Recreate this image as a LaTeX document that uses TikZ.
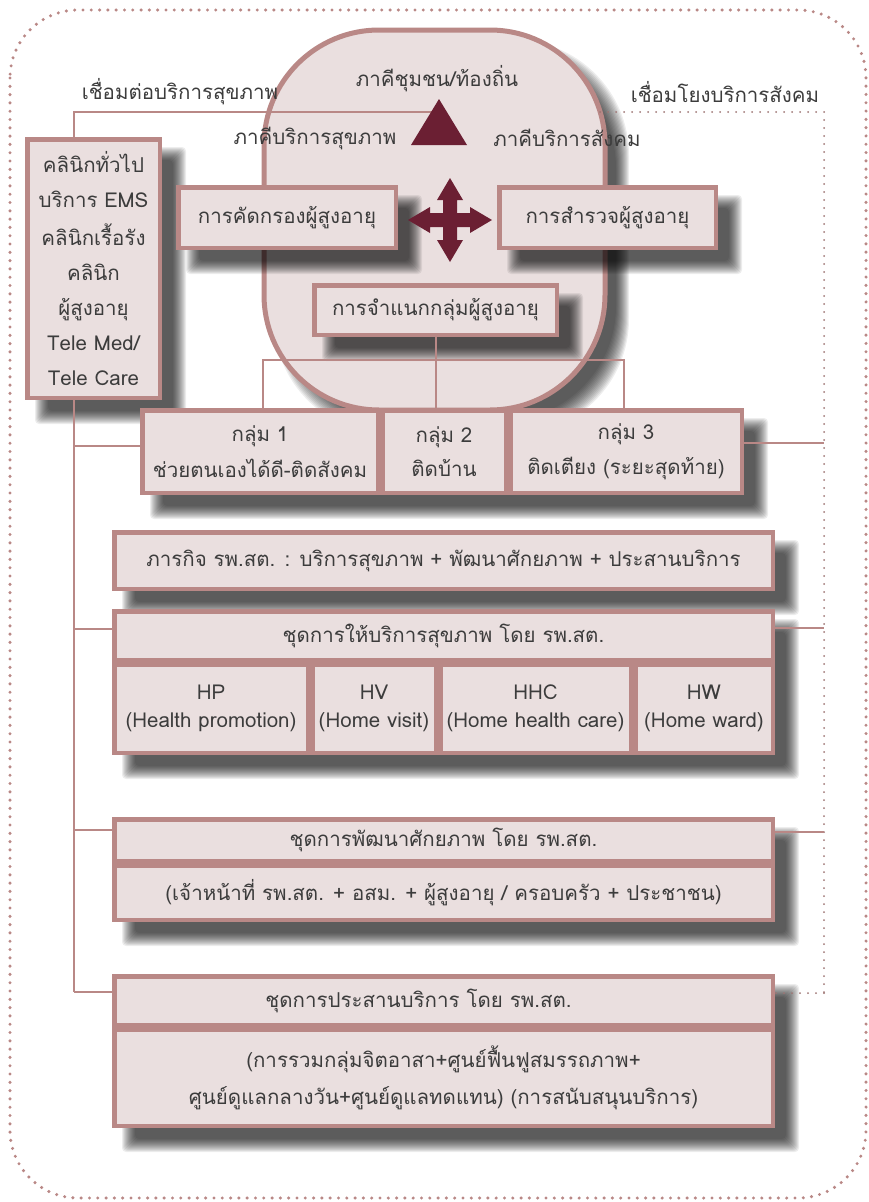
\documentclass[tikz,border=0pt]{standalone}
\usepackage{fontspec}
\setmainfont[Script=Thai]{Loma}
\definecolor{bcol}{HTML}{B98886}
\definecolor{fcol}{HTML}{EADFDF}
\definecolor{tcol}{HTML}{3C3C3C}
\definecolor{mar}{HTML}{6B1F33}
\definecolor{dotc}{HTML}{B98886}
\newcommand{\fsz}[1]{\fontsize{#1}{#1}\selectfont}
% soft shadow: [corner radius]{x1}{y1}{x2}{y2}
\newcommand{\shd}[5][4]{%
  \foreach \k in {0,...,13}{%
    \fill[black, opacity=0.072, rounded corners=#1pt]
      ({#2+17-7+\k},{#3+17-7+\k}) rectangle ({#4+17+7-\k},{#5+17+7-\k});
  }}
\tikzset{
  box/.style={draw=bcol, fill=fcol, line width=4.5pt, text=tcol, align=center, inner sep=0pt, font=\fsz{20.5}},
  conn/.style={draw=bcol, line width=2pt},
  dotline/.style={draw=dotc!85!black, line width=2pt, line cap=round, dash pattern=on 0pt off 8pt},
  lbl/.style={text=tcol, font=\fsz{20.5}, inner sep=0pt},
}
\begin{document}
\begin{tikzpicture}[x=1pt,y=-1pt]
\useasboundingbox (0,0) rectangle (868,1202);
% outer dotted frame
\draw[dotc, line width=3.4pt, line cap=round, dash pattern=on 0pt off 8.3pt, rounded corners=68pt] (10,10) rectangle (866,1198);
% big rounded shape
\shd[115]{264}{30}{605}{410}
\path[draw=bcol, fill=fcol, line width=5pt, rounded corners=115pt] (264,30) rectangle (605,410);
% shadows of boxes
\shd{25}{137}{162}{400}
\shd{176}{185}{398}{250}
\shd{497}{185}{718}{250}
\shd{312}{283}{559}{337}
\shd{140}{408}{744}{495}
\shd{112}{530}{775}{591}
\shd{112}{609}{775}{755}
\shd{112}{817}{775}{922}
\shd{112}{974}{775}{1128}
% connector coordinates
\coordinate (tl) at (74,112);
\coordinate (tmid) at (432,112);
\coordinate (tr) at (600,112);
\coordinate (rtop) at (824,112);
\coordinate (rbot) at (824,993);
\coordinate (lbot) at (74,992);
\coordinate (lv1) at (74,446);
\coordinate (lv2) at (74,629);
\coordinate (lv3) at (74,830);
\coordinate (rv1) at (824,443);
\coordinate (rv2) at (824,628);
\coordinate (rv3) at (824,832);
\coordinate (hl) at (263,360);
\coordinate (hr) at (624,360);
% labels
\node[lbl] (lk1) at (180,92) {เชื่อมต่อบริการสุขภาพ};
\node[lbl] (lk2) at (725,92) {เชื่อมโยงบริการสังคม};
\node[lbl] (p1) at (437,79) {ภาคีชุมชน/ท้องถิ่น};
\node[lbl] (p2) at (315,138) {ภาคีบริการสุขภาพ};
\node[lbl] (p3) at (567,138) {ภาคีบริการสังคม};
% left box
\node[box, minimum width=132.5pt, minimum height=258.5pt] (lb) at (93.5,268.5)
  {คลินิกทั่วไป\\[14.5pt]บริการ EMS\\[14.5pt]คลินิกเรื้อรัง\\[14.5pt]คลินิก\\[14.5pt]ผู้สูงอายุ\\[14.5pt]Tele Med/\\[14.5pt]Tele Care};
% top solid line and dotted continuation
\draw[conn] (lb.north -| tl) -- (tl) -- (tmid);
\draw[dotline] (tr) -- (rtop) -- (rbot);
\draw[conn] (lb.south -| tl) -- (lbot);
% triangle
\fill[mar] (411,145) -- (439,99) -- (467,145) -- cycle;
% four-way arrow
\fill[mar] (450,220) ++(7,-7) -- ++(13,0) -- ++(0,-6) -- ++(22,13) -- ++(-22,13) -- ++(0,-6) -- ++(-13,0)
  -- ++(0,13) -- ++(6,0) -- ++(-13,22) -- ++(-13,-22) -- ++(6,0) -- ++(0,-13)
  -- ++(-13,0) -- ++(0,6) -- ++(-22,-13) -- ++(22,-13) -- ++(0,6) -- ++(13,0)
  -- ++(0,-13) -- ++(-6,0) -- ++(13,-22) -- ++(13,22) -- ++(-6,0) -- cycle;
\node[box, minimum width=217.5pt, minimum height=60.5pt] (scr) at (287,217.5) {การคัดกรองผู้สูงอายุ};
\node[box, minimum width=216.5pt, minimum height=60.5pt] (srv) at (607.5,217.5) {การสำรวจผู้สูงอายุ};
\node[box, minimum width=242.5pt, minimum height=49.5pt] (cls) at (435.5,310) {การจำแนกกลุ่มผู้สูงอายุ};
% group connectors
\draw[conn] (cls.south) -- (cls.south |- 0,408);
\draw[conn] (hl |- 0,408) -- (hl) -- (hr) -- (hr |- 0,408);
\draw[conn] (lv1) -- (lv1 -| 140,0);
% group row
\node[box, minimum width=235.5pt, minimum height=82.5pt] (g1) at (260,451.5) {กลุ่ม 1\\[11pt]ช่วยตนเองได้ดี-ติดสังคม};
\node[box, minimum width=123.5pt, minimum height=82.5pt] (g2) at (444,451.5) {กลุ่ม 2\\[11pt]ติดบ้าน};
\node[box, minimum width=231.5pt, minimum height=82.5pt] (g3) at (626,451.5) {กลุ่ม 3\\[11pt]ติดเตียง (ระยะสุดท้าย)};
\draw[conn] (g3.east |- rv1) -- (rv1);
% mission
\node[box, minimum width=658.5pt, minimum height=56.5pt] (mis) at (443.5,560.5) {ภารกิจ รพ.สต. : บริการสุขภาพ + พัฒนาศักยภาพ + ประสานบริการ};
% health services
\node[box, minimum width=658.5pt, minimum height=48.5pt] (hs) at (443.5,635.5) {ชุดการให้บริการสุขภาพ โดย รพ.สต.};
\node[box, minimum width=193.5pt, minimum height=88.5pt] (hp) at (211,708.5) {HP\\[7.5pt](Health promotion)};
\node[box, minimum width=123.5pt, minimum height=88.5pt] (hv) at (374,708.5) {HV\\[7.5pt](Home visit)};
\node[box, minimum width=190.5pt, minimum height=88.5pt] (hhc) at (535.5,708.5) {HHC\\[7.5pt](Home health care)};
\node[box, minimum width=137.5pt, minimum height=88.5pt] (hw) at (704,708.5) {HW\\[7.5pt](Home ward)};
\draw[conn] (lv2) -- (lv2 -| hs.west);
\draw[conn] (hs.east |- rv2) -- (rv2);
% development
\node[box, minimum width=658.5pt, minimum height=41.5pt] (dv) at (443.5,840) {ชุดการพัฒนาศักยภาพ โดย รพ.สต.};
\node[box, minimum width=658.5pt, minimum height=54.5pt] (dvc) at (443.5,892.5) {(เจ้าหน้าที่ รพ.สต. + อสม. + ผู้สูงอายุ / ครอบครัว + ประชาชน)};
\draw[conn] (lv3) -- (lv3 -| dv.west);
\draw[conn] (dv.east |- rv3) -- (rv3);
% coordination
\node[box, minimum width=658.5pt, minimum height=48.5pt] (co) at (443.5,1000.5) {\hspace*{-50pt}ชุดการประสานบริการ โดย รพ.สต.};
\node[box, minimum width=658.5pt, minimum height=96.5pt] (coc) at (443.5,1077.5) {(การรวมกลุ่มจิตอาสา+ศูนย์ฟื้นฟูสมรรถภาพ+\\[12.5pt]ศูนย์ดูแลกลางวัน+ศูนย์ดูแลทดแทน) (การสนับสนุนบริการ)};
\draw[conn] (lbot) -- (lbot -| co.west);
\draw[dotline] (rbot) -- (rbot -| co.east);
\end{tikzpicture}
\end{document}
